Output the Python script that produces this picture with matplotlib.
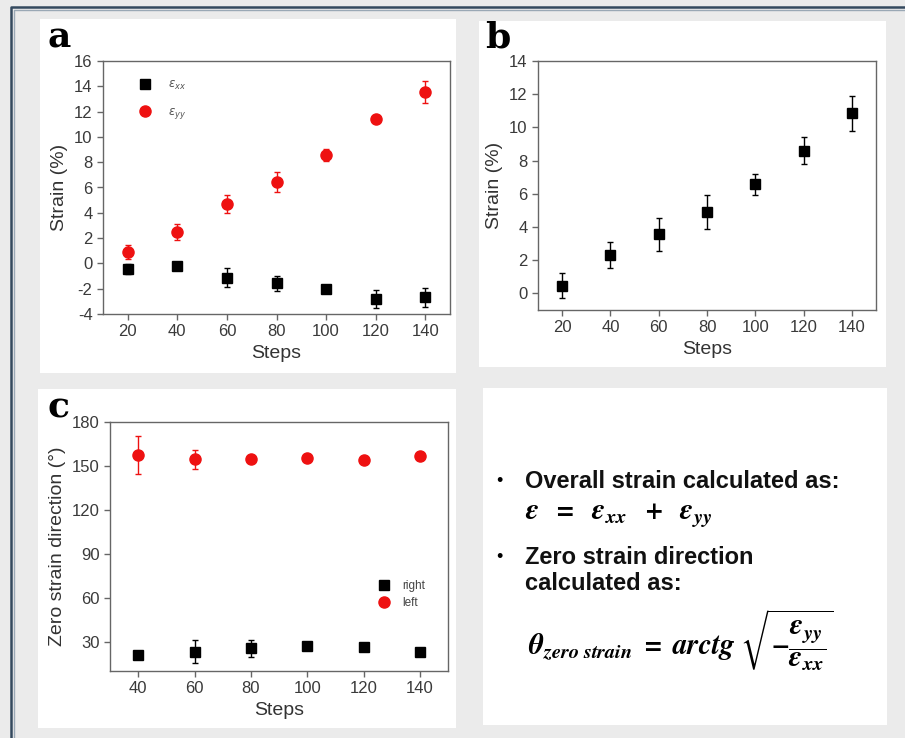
import matplotlib.pyplot as plt
from matplotlib.patches import Rectangle
from matplotlib.lines import Line2D

plt.rcParams['font.family'] = ['Liberation Sans', 'DejaVu Sans']
plt.rcParams['axes.unicode_minus'] = False

# panel a: strain components
steps_a = [20, 40, 60, 80, 100, 120, 140]
exx = [-0.47, -0.2, -1.13, -1.58, -2.05, -2.8, -2.68]
exx_err = [0.4, 0.3, 0.75, 0.6, 0.3, 0.7, 0.75]
eyy = [0.87, 2.47, 4.68, 6.42, 8.58, 11.4, 13.55]
eyy_err = [0.55, 0.62, 0.7, 0.8, 0.5, 0.2, 0.85]

# panel b: overall strain
steps_b = [20, 40, 60, 80, 100, 120, 140]
strain = [0.46, 2.32, 3.55, 4.9, 6.57, 8.6, 10.85]
strain_err = [0.75, 0.8, 1.0, 1.0, 0.65, 0.8, 1.07]

# panel c: zero strain direction
steps_c = [40, 60, 80, 100, 120, 140]
right = [20.6, 23.2, 25.4, 26.8, 26.4, 23.2]
right_err = [1.5, 8.0, 6.0, 2.5, 3.0, 1.0]
left = [157.6, 154.4, 154.7, 155.3, 154.0, 156.7]
left_err = [13.0, 6.8, 1.0, 1.5, 1.0, 2.5]

W, H = 905, 738
RED = '#ee1111'
SPINE = '#666666'
TXT = '#333333'

fig = plt.figure(figsize=(W / 100, H / 100), dpi=100)
fig.patch.set_facecolor('#ebebeb')


def px_rect(x0, y0, x1, y1):
    return [x0 / W, 1 - y1 / H, (x1 - x0) / W, (y1 - y0) / H]


# white panel backgrounds
for x0, y0, x1, y1 in [(40, 19, 456, 373), (479, 21, 886, 367),
                       (38, 389, 456, 728), (483, 388, 887, 725)]:
    fig.patches.append(Rectangle((x0 / W, 1 - y1 / H), (x1 - x0) / W, (y1 - y0) / H,
                                 transform=fig.transFigure, facecolor='white',
                                 edgecolor='none', zorder=-5))

# frame lines at top and left
fig.add_artist(Line2D([11 / W, 11 / W, 1], [0, 1 - 7 / H, 1 - 7 / H],
                      transform=fig.transFigure, color='#34495e', lw=1.8))
fig.add_artist(Line2D([13.5 / W, 13.5 / W, 1], [0, 1 - 9.5 / H, 1 - 9.5 / H],
                      transform=fig.transFigure, color='#9aa8b5', lw=1.0))


def style(ax):
    ax.set_facecolor('none')
    for s in ax.spines.values():
        s.set_color(SPINE)
        s.set_linewidth(1.0)
    ax.tick_params(direction='out', length=4, width=1, color=SPINE,
                   labelsize=12, labelcolor='#3a3a3a', top=False, right=False)
    ax.set_xlabel('Steps', fontsize=14, color=TXT)


ax_a = fig.add_axes(px_rect(103, 61, 450, 314))
ax_a.errorbar(steps_a, exx, yerr=exx_err, fmt='s', color='black', ms=7,
              elinewidth=1, capsize=2, label=r'$\varepsilon_{xx}$')
ax_a.errorbar(steps_a, eyy, yerr=eyy_err, fmt='o', color=RED, ms=8,
              elinewidth=1, capsize=2, label=r'$\varepsilon_{yy}$')
ax_a.set_xlim(10, 150)
ax_a.set_ylim(-4, 16)
ax_a.set_xticks(steps_a)
ax_a.set_yticks(range(-4, 17, 2))
style(ax_a)
ax_a.set_ylabel('Strain (%)', fontsize=14, color=TXT, labelpad=4)
h, l = ax_a.get_legend_handles_labels()
ax_a.legend([x[0] for x in h], l, loc='upper left', bbox_to_anchor=(0.057, 0.972),
            frameon=False, fontsize=8.5, labelspacing=1.2, handletextpad=0.9,
            labelcolor='#555555')

ax_b = fig.add_axes(px_rect(538, 61, 876, 310))
ax_b.errorbar(steps_b, strain, yerr=strain_err, fmt='s', color='black', ms=7,
              elinewidth=1, capsize=2)
ax_b.set_xlim(10, 150)
ax_b.set_ylim(-1, 14)
ax_b.set_xticks(steps_b)
ax_b.set_yticks(range(0, 15, 2))
style(ax_b)
ax_b.set_ylabel('Strain (%)', fontsize=14, color=TXT, labelpad=4)

ax_c = fig.add_axes(px_rect(110, 422, 448, 671))
ax_c.errorbar(steps_c, right, yerr=right_err, fmt='s', color='black', ms=7,
              elinewidth=1, capsize=2, label='right')
ax_c.errorbar(steps_c, left, yerr=left_err, fmt='o', color=RED, ms=8,
              elinewidth=1, capsize=2, label='left')
ax_c.set_xlim(30, 150)
ax_c.set_ylim(10, 180)
ax_c.set_xticks(steps_c)
ax_c.set_yticks(range(30, 181, 30))
style(ax_c)
ax_c.set_ylabel('Zero strain direction (°)', fontsize=14, color=TXT, labelpad=4)
h, l = ax_c.get_legend_handles_labels()
ax_c.legend([x[0] for x in h], l, loc='lower right', bbox_to_anchor=(0.965, 0.205),
            frameon=False, fontsize=8.5, labelspacing=0.45, handletextpad=0.6,
            labelcolor='#444444')

# panel letters
for x, y, t in [(47, 47, 'a'), (485, 48, 'b'), (47, 417, 'c')]:
    fig.text(x / W, 1 - y / H, t, fontsize=26, fontweight='bold',
             family='DejaVu Serif', va='baseline', ha='left')

# panel d text
fig.text(499 / W, 1 - 482 / H, '•', fontsize=13, va='center', ha='center')
fig.text(525 / W, 1 - 482 / H, 'Overall strain calculated as:', fontsize=17,
         fontweight='bold', va='center', ha='left', color='#111111')
fig.text(525 / W, 1 - 515 / H,
         r'$\mathbfit{\varepsilon\ \ =\ \ \varepsilon_{xx}\ \ +\ \ \varepsilon_{yy}}$',
         fontsize=21, va='center', ha='left', math_fontfamily='stix')
fig.text(499 / W, 1 - 557 / H, '•', fontsize=13, va='center', ha='center')
fig.text(525 / W, 1 - 557 / H, 'Zero strain direction', fontsize=17,
         fontweight='bold', va='center', ha='left', color='#111111')
fig.text(525 / W, 1 - 583 / H, 'calculated as:', fontsize=17,
         fontweight='bold', va='center', ha='left', color='#111111')
fig.text(528 / W, 1 - 640 / H,
         r'$\mathbfit{\theta_{zero\ strain}\ =\ arctg\ \sqrt{-\dfrac{\varepsilon_{yy}}{\varepsilon_{xx}}}}$',
         fontsize=21, va='center', ha='left', math_fontfamily='stix')

fig.savefig('out.png', dpi=100, facecolor=fig.get_facecolor())
